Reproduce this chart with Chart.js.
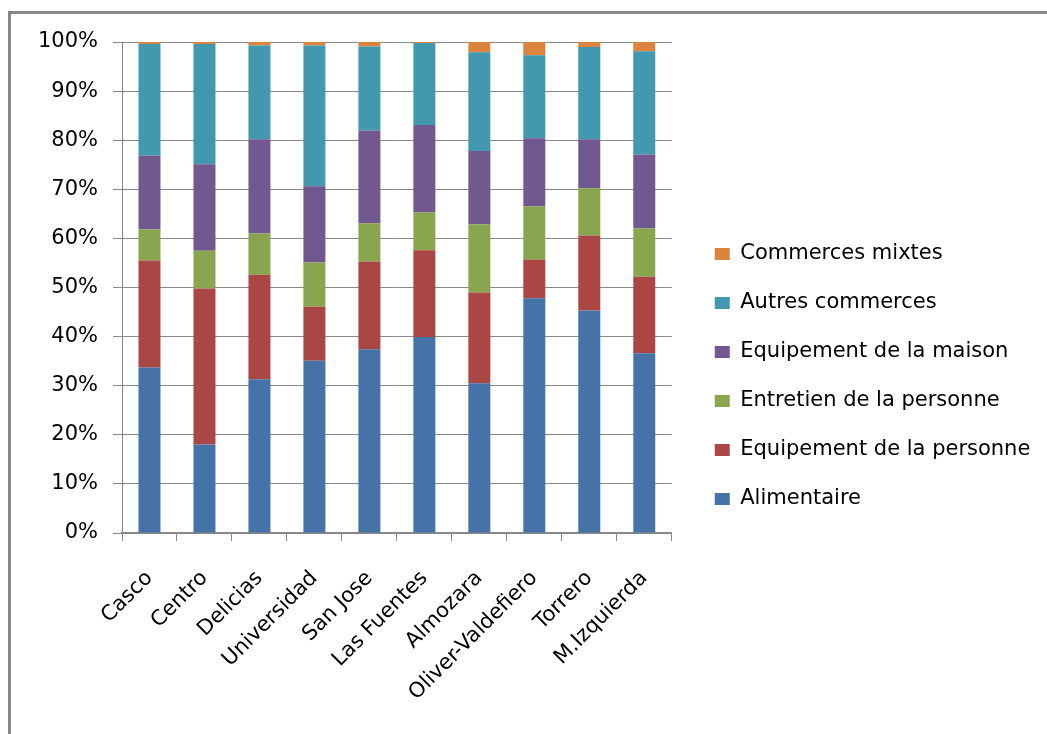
<!DOCTYPE html>
<html>
<head>
<meta charset="utf-8">
<script src="https://cdn.jsdelivr.net/npm/chart.js@4/dist/chart.umd.min.js"></script>
<style>
    html, body { margin: 0; padding: 0; background: #fff; overflow: hidden; }
    .frame { position: absolute; left: 8px; top: 11px; width: 2000px; height: 2000px; border: 3px solid #888; }
    #chart { position: absolute; left: 0; top: 0; }
</style>
</head>
<body>
<div class="frame"></div>
<canvas id="chart" width="1047" height="734"></canvas>
<script>
// Data (percent of shops per district)
const districts = ['Casco', 'Centro', 'Delicias', 'Universidad', 'San Jose', 'Las Fuentes', 'Almozara', 'Oliver-Valdefiero', 'Torrero', 'M.Izquierda'];
const alimentaire = [33.7, 18.0, 31.3, 35.1, 37.4, 39.9, 30.5, 47.8, 45.3, 36.6];
const equipPersonne = [21.8, 31.8, 21.3, 11.0, 17.9, 17.7, 18.5, 7.9, 15.3, 15.6];
const entretienPersonne = [6.3, 7.7, 8.4, 9.0, 7.8, 7.7, 13.9, 10.8, 9.6, 9.8];
const equipMaison = [15.1, 17.6, 19.2, 15.5, 18.9, 17.8, 14.9, 13.9, 10.0, 15.1];
const autresCommerces = [22.7, 24.5, 19.1, 28.7, 17.1, 16.7, 20.1, 16.9, 18.8, 21.0];
const commercesMixtes = [0.4, 0.4, 0.7, 0.7, 0.9, 0.2, 2.1, 2.7, 1.0, 1.9];
const yTicks = [0, 10, 20, 30, 40, 50, 60, 70, 80, 90, 100];

const seriesNames = ['Alimentaire', 'Equipement de la personne', 'Entretien de la personne', 'Equipement de la maison', 'Autres commerces', 'Commerces mixtes'];
const seriesData = [alimentaire, equipPersonne, entretienPersonne, equipMaison, autresCommerces, commercesMixtes];
const seriesColors = ['#4572A7', '#AA4643', '#89A54E', '#71588F', '#4198AF', '#DB843D'];

const gridColor = '#888';
const font = { family: '"DejaVu Sans", sans-serif', size: 21 };

const dataSetList = seriesNames.map((name, idx) => ({
    label: name,
    data: seriesData[idx],
    backgroundColor: seriesColors[idx],
    borderWidth: 0,
    barPercentage: 0.4,
    categoryPercentage: 1.0
}));

// legend width is capped by the layout, so widen it afterwards and leave a gap to the plot
const legendGap = {
    id: 'legendGap',
    afterLayout(chart) {
        const legend = chart.legend;
        legend.left = chart.chartArea.right + 15;
        legend.right = chart.width;
        legend.width = legend.right - legend.left;
    }
};

Chart.defaults.color = '#000';

new Chart(document.getElementById('chart'), {
    type: 'bar',
    data: { labels: districts, datasets: dataSetList },
    plugins: [legendGap],
    options: {
        responsive: false,
        animation: false,
        layout: { padding: { top: 42, bottom: 23, left: 38, right: 164 } },
        plugins: {
            tooltip: { enabled: false },
            legend: {
                position: 'right',
                reverse: true,
                labels: {
                    font: font,
                    boxWidth: 15,
                    boxHeight: 12,
                    padding: 28,
                    color: '#000'
                }
            }
        },
        scales: {
            x: {
                stacked: true,
                grid: { drawOnChartArea: false, drawTicks: true, tickLength: 8, color: gridColor, offset: true },
                border: { color: gridColor, width: 2 },
                ticks: { font: font, minRotation: 45, maxRotation: 45, padding: 25, autoSkip: false },
                afterFit: (scale) => { scale.height = 178; }
            },
            y: {
                stacked: true,
                min: 0,
                max: 100,
                grid: { color: gridColor, lineWidth: 1, tickLength: 9 },
                border: { color: gridColor, width: 1 },
                afterBuildTicks: (scale) => { scale.ticks = yTicks.map(v => ({ value: v })); },
                ticks: { font: font, padding: 15, callback: (v) => v + '%' },
                afterFit: (scale) => { scale.width = 84; }
            }
        }
    }
});
</script>
</body>
</html>
